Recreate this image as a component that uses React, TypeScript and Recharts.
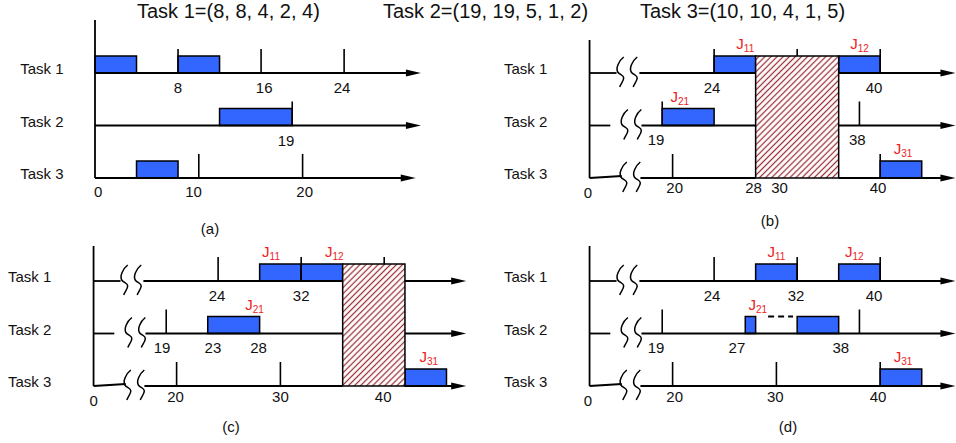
import React from 'react';
import { ComposedChart, XAxis, YAxis, ReferenceArea, ReferenceLine, ReferenceDot } from 'recharts';

const TASKS = ['Task 1', 'Task 2', 'Task 3'];
const TITLES = ['Task 1=(8, 8, 4, 2, 4)', 'Task 2=(19, 19, 5, 1, 2)', 'Task 3=(10, 10, 4, 1, 5)'];
const CAPTIONS = ['(a)', '(b)', '(c)', '(d)'];

// deadlines per task, drawn as upright ticks
const DEADLINES_A = [[8, 16, 24], [19], [10, 20]];
const DEADLINES_LATE = [[24, 32, 40], [19, 38], [20, 30, 40]];

// executed jobs: [task, start, end]
const JOBS_A = [[0, 0, 4], [0, 8, 12], [1, 12, 19], [2, 4, 8]];
const JOBS_B = [[0, 24, 28], [0, 36, 40], [1, 19, 24], [2, 40, 44]];
const JOBS_C = [[0, 28, 32], [0, 32, 36], [1, 23, 28], [2, 42, 46]];
const JOBS_D = [[0, 28, 32], [0, 36, 40], [1, 27, 28], [1, 32, 36], [2, 40, 44]];

// job names: [task, at, subscript]
const NAMES_B = [[0, 27, '11'], [0, 38, '12'], [1, 20.7, '21'], [2, 42.2, '31']];
const NAMES_C = [[0, 29.1, '11'], [0, 35.2, '12'], [1, 27.5, '21'], [2, 44.3, '31']];
const NAMES_D = [[0, 30, '11'], [0, 37.5, '12'], [1, 28.2, '21'], [2, 42.2, '31']];

// time labels: [task, at, text]
const LABELS_A = [[0, 8, '8'], [0, 16.3, '16'], [0, 23.8, '24'], [1, 18.4, '19'], [2, 0.3, '0'], [2, 9.5, '10'], [2, 20.2, '20']];
const LABELS_B = [[0, 23.8, '24'], [0, 39.4, '40'], [1, 18.4, '19'], [1, 37.8, '38'], [2, 20.2, '20'], [2, 27.8, '28'], [2, 30.3, '30'], [2, 39.8, '40']];
const LABELS_C = [[0, 23.9, '24'], [0, 32, '32'], [1, 18.6, '19'], [1, 23.5, '23'], [1, 27.9, '28'], [2, 19.9, '20'], [2, 30, '30'], [2, 39.9, '40']];
const LABELS_D = [[0, 23.8, '24'], [0, 31.9, '32'], [0, 39.4, '40'], [1, 18.4, '19'], [1, 26.2, '27'], [1, 36.2, '38'], [2, 20.2, '20'], [2, 29.9, '30'], [2, 39.8, '40']];

// blocked (hatched) intervals and the waiting gap in (d)
const BLOCK_B = [28, 36];
const BLOCK_C = [36, 42];
const WAIT_D = [1, 29.2, 31.6];

// time axis break per task: [line end, squiggle 1, squiggle 2, line resumes]
const BREAKS = [[14.6, 15.0, 16.3, 16.8], [14.0, 15.4, 16.7, 17.0], [15.1, 15.3, 16.6, 16.9]];

const FONT = '"Liberation Sans", Arial, Helvetica, sans-serif';
const BLUE = '#3366ff';
const RED = '#ee2222';
const HATCH = '#9a2f35';
const PX = 10.38;
const ROW = 52.5;
const W = 478;
const H = 240;
const Y_DOMAIN = [-62, 178];
const BAR_H = 17;
const TICK_H = 24;
const HS = 4.3;

const rowY = (task: number) => (2 - task) * ROW;

type Spec = {
  id: string;
  left: number;
  top: number;
  origin: number;
  axisAt: number;
  axisTop: number;
  tips: number[];
  deadlines: number[][];
  jobs: number[][];
  names: any[][];
  labels: any[][];
  drops: number[];
  originAt?: number;
  block?: number[];
  wait?: number[];
  broken: boolean;
  taskAt: number;
};

const PANELS: Spec[] = [
  { id: 'a', left: 0, top: 0, origin: 95, axisAt: 0, axisTop: 158, tips: [31.4, 31.4, 30.9], deadlines: DEADLINES_A, jobs: JOBS_A, names: [], labels: LABELS_A, drops: [20, 20, 19], broken: false, taskAt: -7.2 },
  { id: 'b', left: 478, top: 0, origin: 465, axisAt: 12, axisTop: 138, tips: [47.25, 47.25, 47.25], deadlines: DEADLINES_LATE, jobs: JOBS_B, names: NAMES_B, labels: LABELS_B, drops: [20, 19, 15], originAt: 11.85, block: BLOCK_B, broken: true, taskAt: 3.76 },
  { id: 'c', left: 0, top: 208, origin: -31, axisAt: 12, axisTop: 140, tips: [47.9, 47.9, 47.9], deadlines: DEADLINES_LATE, jobs: JOBS_C, names: NAMES_C, labels: LABELS_C, drops: [20, 19, 16], originAt: 12, block: BLOCK_C, broken: true, taskAt: 3.76 },
  { id: 'd', left: 478, top: 208, origin: 465, axisAt: 12, axisTop: 140, tips: [47.25, 47.25, 47.25], deadlines: DEADLINES_LATE, jobs: JOBS_D, names: NAMES_D, labels: LABELS_D, drops: [20, 19, 16], originAt: 11.85, wait: WAIT_D, broken: true, taskAt: 3.76 },
];

const squiggle = (cx: number, cy: number) =>
  `M${cx + 3},${cy - 16} C${cx - 2},${cy - 12} ${cx - 5},${cy - 5} ${cx - 3},${cy - 1} ` +
  `C${cx - 1},${cy + 2} ${cx + 3},${cy + 2} ${cx + 3},${cy + 5} C${cx + 3},${cy + 8} ${cx},${cy + 11} ${cx - 1},${cy + 14}`;

const line = { stroke: '#000', strokeWidth: 1.8, ifOverflow: 'visible' as const };

// cut a [from, to] run of a task line around the hatched block
function runs(from: number, to: number, block?: number[]) {
  if (!block || to <= block[0] || from >= block[1]) return [[from, to]];
  const out: number[][] = [];
  if (from < block[0]) out.push([from, block[0]]);
  if (to > block[1]) out.push([block[1], to]);
  return out;
}

function Panel({ p }: { p: Spec }) {
  const shift = p.origin - p.left;
  const xDomain = [-shift / PX, (W - shift) / PX];
  const hatchId = `hatch-${p.id}`;
  const inBlock = (t: number) => !!p.block && t > p.block[0] && t < p.block[1];

  const baseRuns = TASKS.map((_, i) => {
    if (!p.broken) return [{ from: p.axisAt, to: p.tips[i] - 1, lift: 0 }];
    const [end, , , resume] = BREAKS[i];
    return [
      { from: p.axisAt, to: end, lift: i === 2 ? 2 : 0 },
      ...runs(resume, p.tips[i] - 1, p.block).map(([a, b]) => ({ from: a, to: b, lift: 0 })),
    ];
  });

  return (
    <div style={{ position: 'absolute', left: p.left, top: p.top }}>
      <ComposedChart width={W} height={H} data={p.jobs.map((j) => ({ t: j[1] }))} margin={{ top: 0, right: 0, bottom: 0, left: 0 }}>
        <defs>
          <pattern id={hatchId} patternUnits="userSpaceOnUse" width={HS} height={HS} patternTransform="rotate(45)">
            <rect width={HS} height={HS} fill="#fff" />
            <line x1={HS / 2} y1={0} x2={HS / 2} y2={HS} stroke={HATCH} strokeWidth={1.25} />
          </pattern>
        </defs>
        <XAxis type="number" dataKey="t" domain={xDomain} hide allowDataOverflow />
        <YAxis type="number" domain={Y_DOMAIN} hide allowDataOverflow />

        <ReferenceLine segment={[{ x: p.axisAt, y: 0 }, { x: p.axisAt, y: p.axisTop }]} {...line} />

        {baseRuns.map((rs, i) =>
          rs.map((r, k) => (
            <ReferenceLine key={`base${i}-${k}`} segment={[{ x: r.from, y: rowY(i) }, { x: r.to, y: rowY(i) + r.lift }]} {...line} />
          ))
        )}

        {p.broken &&
          TASKS.map((_, i) =>
            [BREAKS[i][1], BREAKS[i][2]].map((t, k) => (
              <ReferenceDot
                key={`sq${i}${k}`}
                x={t}
                y={rowY(i)}
                r={0}
                ifOverflow="visible"
                shape={(s: any) => <path d={squiggle(s.cx, s.cy)} fill="none" stroke="#000" strokeWidth={1.5} />}
              />
            ))
          )}

        {TASKS.map((_, i) => (
          <ReferenceDot
            key={`tip${i}`}
            x={p.tips[i]}
            y={rowY(i)}
            r={0}
            ifOverflow="visible"
            shape={(s: any) => <polygon points={`${s.cx},${s.cy} ${s.cx - 15},${s.cy - 3.5} ${s.cx - 15},${s.cy + 3.5}`} fill="#000" />}
          />
        ))}

        {p.deadlines.map((ts, i) =>
          ts.map((t) => {
            if (inBlock(t) && i > 0) return null;
            const low = inBlock(t) ? rowY(i) + BAR_H : rowY(i);
            return <ReferenceLine key={`dl${i}-${t}`} segment={[{ x: t, y: low }, { x: t, y: rowY(i) + TICK_H }]} {...line} strokeWidth={1.6} />;
          })
        )}

        {p.jobs.map(([task, s, e], k) => (
          <ReferenceArea
            key={`job${k}`}
            x1={s}
            x2={e}
            y1={rowY(task)}
            y2={rowY(task) + BAR_H}
            fill={BLUE}
            fillOpacity={1}
            stroke="#000"
            strokeWidth={1.5}
            ifOverflow="visible"
          />
        ))}

        {p.wait && (
          <ReferenceLine
            segment={[{ x: p.wait[1], y: rowY(p.wait[0]) + BAR_H }, { x: p.wait[2], y: rowY(p.wait[0]) + BAR_H }]}
            {...line}
            strokeWidth={2}
            strokeDasharray="6 4"
          />
        )}

        {p.block && (
          <ReferenceArea
            x1={p.block[0]}
            x2={p.block[1]}
            y1={rowY(2)}
            y2={rowY(0) + BAR_H}
            fill={`url(#${hatchId})`}
            fillOpacity={1}
            stroke="#000"
            strokeWidth={1.5}
            ifOverflow="visible"
          />
        )}

        {p.names.map(([task, at, sub], k) => (
          <ReferenceDot
            key={`nm${k}`}
            x={at}
            y={rowY(task) + 24}
            r={0}
            ifOverflow="visible"
            shape={(s: any) => (
              <text x={s.cx} y={s.cy} textAnchor="middle" fill={RED} fontFamily={FONT} fontSize={15}>
                J<tspan fontSize={10} dy={3}>{sub}</tspan>
              </text>
            )}
          />
        ))}

        {p.labels.map(([task, at, txt], k) => (
          <ReferenceDot
            key={`lb${k}`}
            x={at}
            y={rowY(task) - p.drops[task]}
            r={0}
            ifOverflow="visible"
            shape={(s: any) => (
              <text x={s.cx} y={s.cy} textAnchor="middle" fill="#111" fontFamily={FONT} fontSize={15}>
                {txt}
              </text>
            )}
          />
        ))}

        {p.originAt !== undefined && (
          <ReferenceDot
            x={p.originAt}
            y={-20}
            r={0}
            ifOverflow="visible"
            shape={(s: any) => (
              <text x={s.cx} y={s.cy} textAnchor="middle" fill="#111" fontFamily={FONT} fontSize={15}>
                0
              </text>
            )}
          />
        )}

        {TASKS.map((name, i) => (
          <ReferenceDot
            key={`tk${i}`}
            x={p.taskAt}
            y={rowY(i) - 1}
            r={0}
            ifOverflow="visible"
            shape={(s: any) => (
              <text x={s.cx} y={s.cy} textAnchor="start" fill="#111" fontFamily={FONT} fontSize={15}>
                {name}
              </text>
            )}
          />
        ))}
      </ComposedChart>
    </div>
  );
}

const TITLE_LEFT = [137, 383, 640];
const CAPTION_POS = [
  [210, 221],
  [770, 213],
  [231, 419],
  [788, 419],
];

export default function App() {
  return (
    <div style={{ position: 'absolute', left: 0, top: 0, width: 956, height: 443, background: '#fff', overflow: 'hidden', fontFamily: FONT, color: '#111' }}>
      {PANELS.map((p) => (
        <Panel key={p.id} p={p} />
      ))}
      {TITLES.map((t, i) => (
        <div key={t} style={{ position: 'absolute', left: TITLE_LEFT[i], top: 0, fontSize: 20, lineHeight: '22px', whiteSpace: 'nowrap' }}>
          {t}
        </div>
      ))}
      {CAPTIONS.map((c, i) => (
        <div
          key={c}
          style={{ position: 'absolute', left: CAPTION_POS[i][0], top: CAPTION_POS[i][1], transform: 'translateX(-50%)', fontSize: 15, lineHeight: '15px' }}
        >
          {c}
        </div>
      ))}
    </div>
  );
}
